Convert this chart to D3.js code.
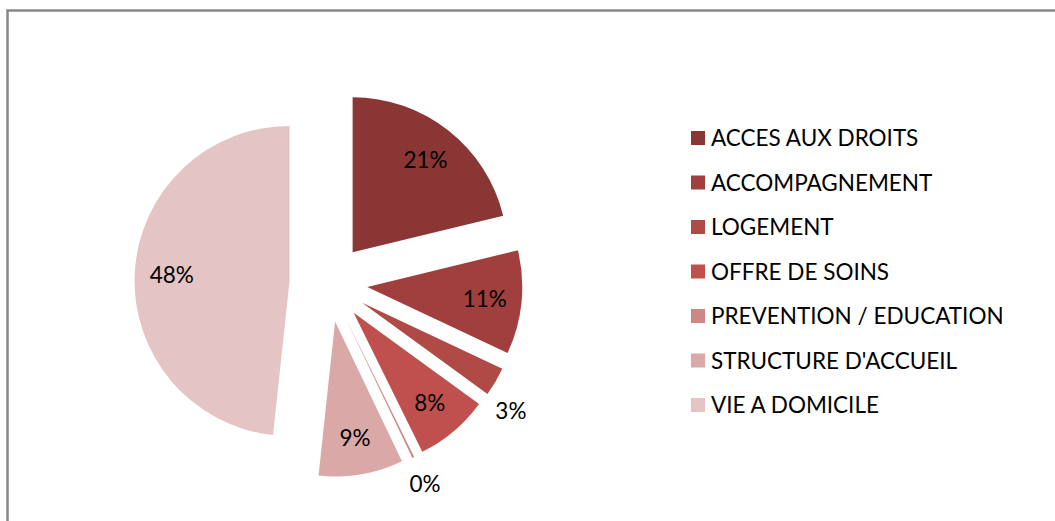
<!DOCTYPE html>
<html>
<head>
<meta charset="utf-8">
<script src="https://cdn.jsdelivr.net/npm/d3@7"></script>
<style>
  html, body { margin: 0; padding: 0; background: #fff; }
  svg { display: block; }
  text { font-family: Lato, "Open Sans", sans-serif; fill: #000; }
</style>
</head>
<body>
<svg id="chart" width="1055" height="521"></svg>
<script>
const categories = ["ACCES AUX DROITS", "ACCOMPAGNEMENT", "LOGEMENT", "OFFRE DE SOINS",
                    "PREVENTION / EDUCATION", "STRUCTURE D'ACCUEIL", "VIE A DOMICILE"];
const values = [21.2, 10.8, 3.0, 7.7, 0.2, 8.8, 48.3];
const labels = ["21%", "11%", "3%", "8%", "0%", "9%", "48%"];
const colors = ["#8A3634", "#A03F3D", "#B04A47", "#C0504D", "#CD8885", "#DAA8A7", "#E4C4C4"];

const W = 1055, H = 521;
const svg = d3.select("#chart");

// frame
svg.append("rect")
  .attr("x", 7.5).attr("y", 10.5)
  .attr("width", W + 20).attr("height", H + 20)
  .attr("fill", "none").attr("stroke", "#888").attr("stroke-width", 2.5);

const cx = 328.5, cy = 283, R = 155, explode = 39;
const insideR = 118, outsideR = 184;
const fontSize = 22.5;

const pie = d3.pie().sort(null).value(d => d);
const arcs = pie(values);
const arc = d3.arc().innerRadius(0).outerRadius(R);

const g = svg.append("g").attr("transform", `translate(${cx},${cy})`);

function dir(a) { return [Math.sin(a), -Math.cos(a)]; }
function labelPos(d) {
  const outside = d.data < 5;
  const a = outside ? d.endAngle : (d.startAngle + d.endAngle) / 2;
  const r = outside ? outsideR : insideR;
  const [x, y] = dir(a);
  return [x * r, y * r];
}

const slice = g.selectAll("g.slice").data(arcs).enter().append("g")
  .attr("class", "slice")
  .attr("transform", d => {
    const m = (d.startAngle + d.endAngle) / 2;
    const [dx, dy] = dir(m);
    return `translate(${dx * explode},${dy * explode})`;
  });

slice.append("path")
  .attr("d", arc)
  .attr("fill", (d, i) => colors[i]);

slice.append("text")
  .attr("text-anchor", "middle")
  .attr("dy", "0.36em")
  .attr("font-size", fontSize)
  .attr("x", d => labelPos(d)[0])
  .attr("y", d => labelPos(d)[1])
  .text((d, i) => labels[i]);

// legend
const legendY = d3.scalePoint().domain(categories).range([138, 405]);
const lg = svg.append("g");
const item = lg.selectAll("g").data(categories).enter().append("g")
  .attr("transform", d => `translate(691,${legendY(d)})`);
item.append("rect")
  .attr("x", 0).attr("y", -7).attr("width", 14).attr("height", 14)
  .attr("fill", (d, i) => colors[i]);
item.append("text")
  .attr("x", 20).attr("dy", "0.36em")
  .attr("font-size", fontSize)
  .text(d => d);
</script>
</body>
</html>
